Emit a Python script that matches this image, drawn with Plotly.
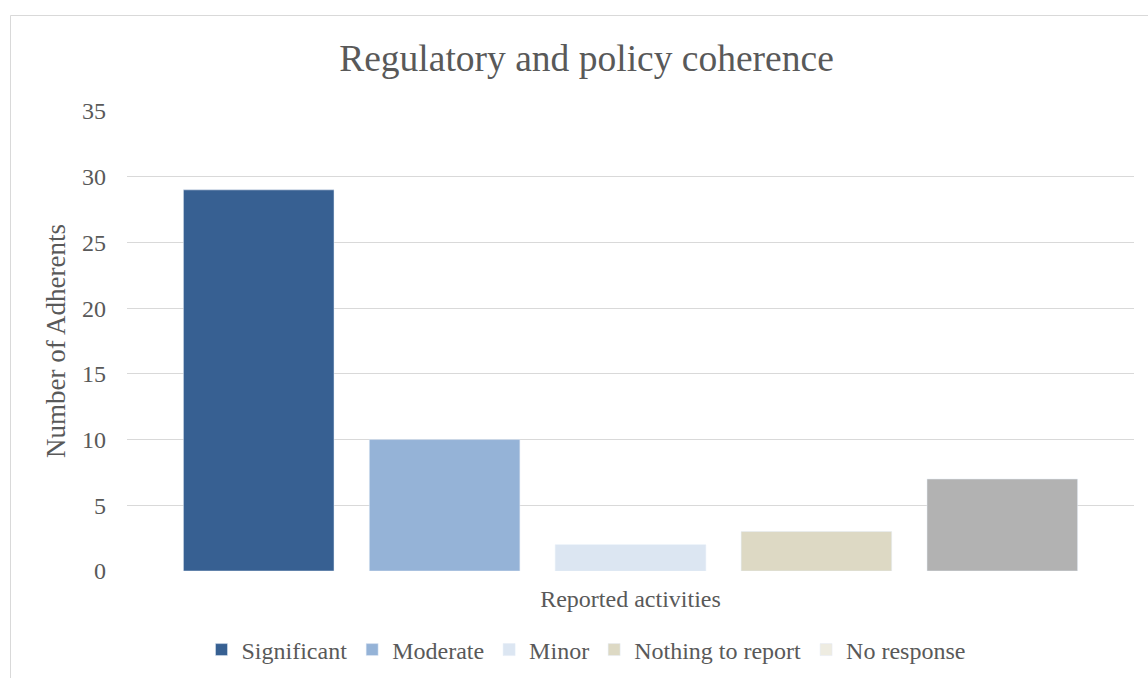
import plotly.graph_objects as go

# Survey summary: one category, five response groups
category = ["Reported activities"]
groups = ["Significant", "Moderate", "Minor", "Nothing to report", "No response"]
counts = [29, 10, 2, 3, 7]
bar_colors = ["#376092", "#95B3D7", "#DCE6F2", "#DDD9C4", "#B2B2B2"]
legend_colors = ["#376092", "#95B3D7", "#DCE6F2", "#DDD9C4", "#EEECE1"]
y_ticks = [0, 5, 10, 15, 20, 25, 30, 35]

FONT = "Liberation Serif, Times New Roman, serif"
TEXT = "#595959"

fig = go.Figure()
for name, val, bc, lc in zip(groups, counts, bar_colors, legend_colors):
    same = bc == lc
    fig.add_trace(go.Bar(
        x=category, y=[val], name=name, marker_color=bc,
        offsetgroup=name, showlegend=same, hoverinfo="y+name",
    ))
    if not same:
        # legend swatch uses the series' theme colour
        fig.add_trace(go.Bar(
            x=category, y=[None], name=name, marker_color=lc,
            offsetgroup=name, showlegend=True,
        ))

# legend order follows the groups list
for tr in fig.data:
    tr.legendrank = groups.index(tr.name) + 1

L, R, T, B = 127, 14, 111, 107
W, H = 1148, 678
pw, ph = W - L - R, H - T - B

fig.update_layout(
    width=W, height=H,
    margin=dict(l=L, r=R, t=T, b=B),
    paper_bgcolor="white", plot_bgcolor="white",
    barmode="group", bargap=0.077, bargroupgap=0.19,
    font=dict(family=FONT, color=TEXT, size=24),
    title=dict(
        text="Regulatory and policy coherence",
        font=dict(family=FONT, size=37.5, color=TEXT),
        x=586.5 / W, xref="container", xanchor="center",
        y=1 - 58 / H, yref="container", yanchor="middle",
    ),
    xaxis=dict(
        showticklabels=False, showgrid=False, zeroline=False,
        showline=False,
        title=dict(text="Reported activities", font=dict(size=24, color=TEXT), standoff=19),
    ),
    yaxis=dict(
        range=[0, 35], tickvals=y_ticks, showgrid=True,
        gridcolor="#D9D9D9", gridwidth=1, zeroline=False, showline=False,
        tickfont=dict(size=24, color=TEXT), ticklabelstandoff=20,
        title=dict(text="Number of Adherents", font=dict(size=27, color=TEXT), standoff=8),
    ),
    legend=dict(
        orientation="h", xref="container", x=586 / W, xanchor="center",
        yref="container", y=1 - 650 / H, yanchor="middle",
        font=dict(size=24, color=TEXT), traceorder="normal",
        itemwidth=30,
    ),
    shapes=[dict(
        type="rect", xref="paper", yref="paper",
        x0=(10.5 - L) / pw, x1=(W + 20 - L) / pw,
        y0=-(H + 20 - T - ph) / ph, y1=(T + ph - 15.5) / ph,
        line=dict(color="#D9D9D9", width=1), fillcolor="rgba(0,0,0,0)",
        layer="below",
    )],
)

fig.write_html("out.html")
